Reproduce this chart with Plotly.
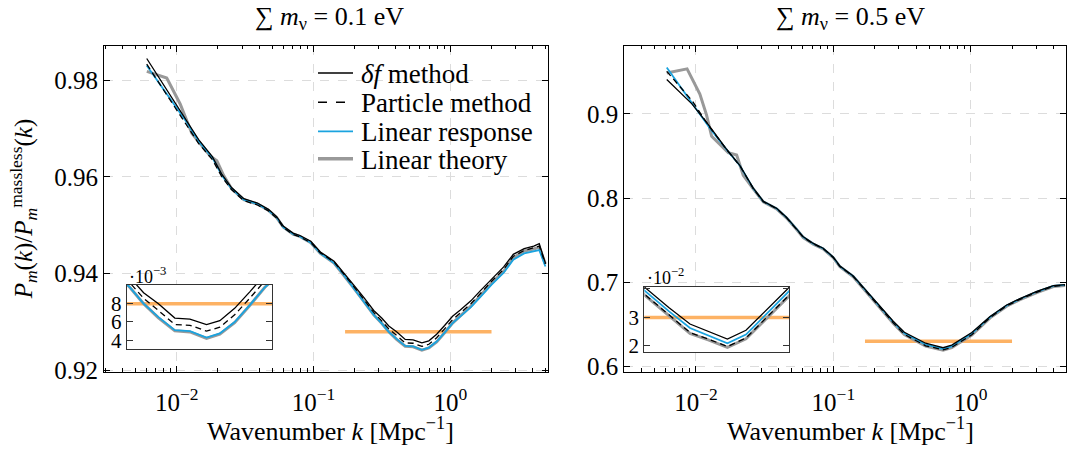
import plotly.graph_objects as go

W, H = 1081, 457
FONT = "Liberation Serif"

# ---------------- data: sum m_nu = 0.1 eV ----------------
k_lo = [0.00603, 0.01175, 0.01445, 0.01820, 0.02138, 0.02512, 0.03090, 0.03890, 0.04677, 0.05370,
        0.06026, 0.07079, 0.07943, 0.09550, 0.1122, 0.1413, 0.1660, 0.1950, 0.2344, 0.2754,
        0.3162, 0.3548, 0.4046, 0.4677, 0.5346, 0.6194, 0.6966, 0.7943, 0.9080, 1.038,
        1.183, 1.413, 1.660, 1.995, 2.455, 2.884, 3.467, 4.074, 4.467, 4.955]
deltaf_lo = [0.98447, 0.9716, 0.9677, 0.9642, 0.9605, 0.9578, 0.9555, 0.9546, 0.9533, 0.9518,
             0.9498, 0.9484, 0.9479, 0.9467, 0.9445, 0.9426, 0.9403, 0.9378, 0.9350, 0.9324,
             0.9308, 0.9292, 0.9280, 0.92642, 0.92631, 0.92571, 0.92613, 0.92749, 0.92930, 0.9312,
             0.9325, 0.9344, 0.9365, 0.9389, 0.9414, 0.9440, 0.9452, 0.9457, 0.9462, 0.9422]
particle_lo = [0.9833, 0.9708, 0.9669, 0.9636, 0.9600, 0.9574, 0.9551, 0.9542, 0.9530, 0.9515,
               0.9495, 0.9481, 0.9476, 0.9464, 0.9443, 0.9424, 0.9400, 0.9375, 0.9346, 0.9320,
               0.9302, 0.9286, 0.92725, 0.92571, 0.92563, 0.92499, 0.92542, 0.92678, 0.92860, 0.9305,
               0.9319, 0.9338, 0.9359, 0.9384, 0.9409, 0.9436, 0.9448, 0.9453, 0.9457, 0.9420]
linresp_lo = [0.9830, 0.9714, 0.9674, 0.9640, 0.9603, 0.9576, 0.9553, 0.9544, 0.9531, 0.9516,
              0.9496, 0.9482, 0.9477, 0.9464, 0.9442, 0.9422, 0.9398, 0.9372, 0.9342, 0.9315,
              0.9297, 0.9280, 0.92653, 0.92510, 0.92499, 0.92428, 0.92474, 0.92599, 0.92784, 0.9298,
              0.9312, 0.9331, 0.9352, 0.9377, 0.9402, 0.9429, 0.9442, 0.9446, 0.9449, 0.9415]
ktheory_lo = [0.00604, 0.00845, 0.01059, 0.01288, 0.01403, 0.01754, 0.01963, 0.02198,
              0.02512, 0.03090, 0.03890, 0.04677, 0.05370, 0.06026, 0.07079, 0.07943, 0.09550,
              0.1122, 0.1413, 0.1660, 0.1950, 0.2344, 0.2754, 0.3162, 0.3548, 0.4046, 0.4677,
              0.5346, 0.6194, 0.6966, 0.7943, 0.9080, 1.038, 1.183, 1.413, 1.660, 1.995, 2.455,
              2.884, 3.467, 4.074, 4.467, 4.955]
theory_lo = [0.9818, 0.98044, 0.97507, 0.96903, 0.9677, 0.96434, 0.96334, 0.96032,
             0.9576, 0.9553, 0.9544, 0.9531, 0.9516, 0.9496, 0.9482, 0.9477, 0.9464,
             0.9442, 0.9422, 0.9398, 0.9372, 0.9342, 0.9315, 0.9297, 0.9280, 0.92645, 0.92502,
             0.92490, 0.92420, 0.92466, 0.92592, 0.92780, 0.9298, 0.9313, 0.9333, 0.9355, 0.9380, 0.9405,
             0.9433, 0.9447, 0.9451, 0.9455, 0.9420]
band_k_lo = [0.17, 2.0]
band_lo = [0.928, 0.928]

# ---------------- data: sum m_nu = 0.5 eV ----------------
k_hi = [0.006124, 0.009333, 0.01262, 0.01671, 0.02089, 0.02612, 0.03090, 0.03864, 0.04571, 0.05408,
        0.06039, 0.07145, 0.08433, 0.09977, 0.1117, 0.1396, 0.1652, 0.2065, 0.2729, 0.3289,
        0.3981, 0.4699, 0.5420, 0.6295, 0.7278, 0.8511, 1.019, 1.384, 1.828, 2.286,
        3.027, 4.000, 4.864]
deltaf_hi = [0.9408, 0.9119, 0.8850, 0.8580, 0.8387, 0.8118, 0.7963, 0.7879, 0.7771, 0.7636,
             0.7540, 0.7462, 0.7405, 0.7301, 0.7193, 0.7077, 0.6942, 0.6769, 0.6538, 0.6407,
             0.6335, 0.6277, 0.6252, 0.6224, 0.6255, 0.6325, 0.6405, 0.6595, 0.6731, 0.6807,
             0.6892, 0.6962, 0.6973]
particle_hi = [0.9505, 0.9160, 0.8840, 0.8575, 0.8382, 0.8113, 0.7958, 0.7874, 0.7766, 0.7631,
               0.7535, 0.7457, 0.7400, 0.7296, 0.7188, 0.7070, 0.6933, 0.6756, 0.6519, 0.6382,
               0.6308, 0.6247, 0.6224, 0.6198, 0.6228, 0.6297, 0.6378, 0.6582, 0.6720, 0.6798,
               0.6882, 0.6953, 0.6965]
linresp_hi = [0.9551, 0.9131, 0.8830, 0.8576, 0.8384, 0.8115, 0.7960, 0.7876, 0.7768, 0.7633,
              0.7537, 0.7459, 0.7402, 0.7298, 0.7190, 0.7073, 0.6937, 0.6762, 0.6528, 0.6395,
              0.6322, 0.6263, 0.6237, 0.6209, 0.6240, 0.6310, 0.6392, 0.6588, 0.6726, 0.6803,
              0.6888, 0.6958, 0.6969]
ktheory_hi = [0.006124, 0.008610, 0.01067, 0.01194, 0.01300, 0.01718, 0.01977, 0.02208,
              0.02612, 0.03090, 0.03864, 0.04571, 0.05408, 0.06039, 0.07145, 0.08433, 0.09977,
              0.1117, 0.1396, 0.1652, 0.2065, 0.2729, 0.3289, 0.3981, 0.4699, 0.5420, 0.6295,
              0.7278, 0.8511, 1.019, 1.384, 1.828, 2.286, 3.027, 4.000, 4.864]
theory_hi = [0.9486, 0.9535, 0.9235, 0.8985, 0.8734, 0.8541, 0.8511, 0.8272,
             0.8110, 0.7955, 0.7871, 0.7763, 0.7628, 0.7532, 0.7454, 0.7397, 0.7293,
             0.7185, 0.7067, 0.6930, 0.6753, 0.6516, 0.6379, 0.6305, 0.6244, 0.6221, 0.6195,
             0.6225, 0.6294, 0.6375, 0.6579, 0.6717, 0.6795, 0.6879, 0.6950, 0.6962]
band_k_hi = [0.17, 2.0]
band_hi = [0.63, 0.63]

titles = ["\u2211 <i>m</i><sub>\u03bd</sub> = 0.1 eV", "\u2211 <i>m</i><sub>\u03bd</sub> = 0.5 eV"]
names = ["<i>\u03b4f</i> method", "Particle method", "Linear response", "Linear theory"]
xticks = [0.01, 0.1, 1]
xticktext = ["10<sup>\u22122</sup>", "10<sup>\u22121</sup>", "10<sup>0</sup>"]
yticks_lo = [0.92, 0.94, 0.96, 0.98]
yticks_hi = [0.6, 0.7, 0.8, 0.9]
inset_ticks_lo = [0.924, 0.926, 0.928]
inset_text_lo = ["4", "6", "8"]
inset_ticks_hi = [0.62, 0.63, 0.64]
inset_text_hi = ["2", "3", ""]

BLACK = "#000000"
BLUE = "#1aa3df"
GRAY = "#999999"
ORANGE = "#fdb264"
DASH = "6px,4px"

fig = go.Figure()

def add_set(xa, ya, kk, df, pa, lr, kt, th, bk, bv):
    fig.add_trace(go.Scatter(x=bk, y=bv, mode="lines", line=dict(color=ORANGE, width=3.5),
                             xaxis=xa, yaxis=ya, showlegend=False, hoverinfo="skip"))
    fig.add_trace(go.Scatter(x=kt, y=th, mode="lines", name=names[3], line=dict(color=GRAY, width=3),
                             xaxis=xa, yaxis=ya, showlegend=False))
    fig.add_trace(go.Scatter(x=kk, y=lr, mode="lines", name=names[2], line=dict(color=BLUE, width=1.8),
                             xaxis=xa, yaxis=ya, showlegend=False))
    fig.add_trace(go.Scatter(x=kk, y=pa, mode="lines", name=names[1],
                             line=dict(color=BLACK, width=1.3, dash=DASH),
                             xaxis=xa, yaxis=ya, showlegend=False))
    fig.add_trace(go.Scatter(x=kk, y=df, mode="lines", name=names[0], line=dict(color=BLACK, width=1.3),
                             xaxis=xa, yaxis=ya, showlegend=False))

add_set("x", "y", k_lo, deltaf_lo, particle_lo, linresp_lo, ktheory_lo, theory_lo, band_k_lo, band_lo)
add_set("x2", "y2", k_hi, deltaf_hi, particle_hi, linresp_hi, ktheory_hi, theory_hi, band_k_hi, band_hi)
add_set("x3", "y3", k_lo, deltaf_lo, particle_lo, linresp_lo, ktheory_lo, theory_lo, band_k_lo, band_lo)
add_set("x4", "y4", k_hi, deltaf_hi, particle_hi, linresp_hi, ktheory_hi, theory_hi, band_k_hi, band_hi)

minor_vals = [m * 10 ** e for e in (-3, -2, -1, 0) for m in range(2, 10)]

def main_x(domain, rng, anchor):
    return dict(type="log", range=rng, domain=domain, anchor=anchor,
                showline=True, linecolor=BLACK, linewidth=1, mirror="allticks",
                ticks="inside", ticklen=6, tickcolor=BLACK, tickwidth=1,
                tickmode="array", tickvals=xticks, ticktext=xticktext, ticklabelstandoff=8,
                tickfont=dict(family=FONT, size=25, color=BLACK),
                showgrid=True, gridcolor="#dcdcdc", griddash="dash", gridwidth=1,
                minor=dict(tickmode="array", tickvals=minor_vals, ticks="inside", ticklen=3.5,
                           tickcolor=BLACK, tickwidth=1, showgrid=False),
                zeroline=False)

def main_y(domain, rng, anchor, tv):
    return dict(range=rng, domain=domain, anchor=anchor,
                showline=True, linecolor=BLACK, linewidth=1, mirror="allticks",
                ticks="inside", ticklen=6, tickcolor=BLACK, tickwidth=1,
                tickmode="array", tickvals=tv, ticktext=[f"{v:g}" for v in tv],
                tickfont=dict(family=FONT, size=25, color=BLACK),
                showgrid=True, gridcolor="#dcdcdc", griddash="dash", gridwidth=1,
                zeroline=False)

def inset_x(domain, rng, anchor):
    return dict(type="log", range=rng, domain=domain, anchor=anchor,
                showline=True, linecolor="#333333", linewidth=1, mirror=True,
                ticks="", showticklabels=False, showgrid=False, zeroline=False)

def inset_y(domain, rng, anchor, tv, tt):
    return dict(range=rng, domain=domain, anchor=anchor,
                showline=True, linecolor="#333333", linewidth=1, mirror="allticks",
                ticks="inside", ticklen=6, tickcolor="#333333",
                tickmode="array", tickvals=tv, ticktext=tt,
                tickfont=dict(family=FONT, size=21, color=BLACK),
                showgrid=False, zeroline=False)

ydom = [1 - 382 / H, 1 - 47 / H]
fig.update_layout(
    width=W, height=H,
    margin=dict(l=0, r=0, t=0, b=0),
    paper_bgcolor="white", plot_bgcolor="white",
    font=dict(family=FONT, size=25, color=BLACK),
    xaxis=main_x([104 / W, 548 / W], [-2.532, 0.714], "y"),
    yaxis=main_y(ydom, [0.9197, 0.9871], "x", yticks_lo),
    xaxis2=main_x([624.3 / W, 1066 / W], [-2.522, 0.694], "y2"),
    yaxis2=main_y(ydom, [0.5936, 0.9809], "x2", yticks_hi),
    xaxis3=inset_x([126.7 / W, 272 / W], [-0.515, 0.0436], "y3"),
    yaxis3=inset_y([1 - 358.7 / H, 1 - 292.3 / H], [0.9230, 0.93009], "x3", inset_ticks_lo, inset_text_lo),
    xaxis4=inset_x([644.3 / W, 789 / W], [-0.483, 0.008], "y4"),
    yaxis4=inset_y([1 - 361.7 / H, 1 - 294.4 / H], [0.6178, 0.6408], "x4", inset_ticks_hi, inset_text_hi),
    showlegend=False,
)

# white backgrounds for the insets (drawn in the inset subplots, over main gridlines)
for ax in ("x3", "x4"):
    yax = "y" + ax[1:]
    fig.add_shape(type="rect", xref=f"{ax} domain", yref=f"{yax} domain", x0=0, x1=1, y0=0, y1=1,
                  fillcolor="white", line=dict(width=0), layer="below")

# legend (inside left panel)
leg_styles = [dict(color=BLACK, width=1.6), dict(color=BLACK, width=1.6, dash="dash"),
              dict(color=BLUE, width=1.8), dict(color=GRAY, width=3.5)]
leg_y = [75, 105, 135, 163]
ann = []
for nm, st, yy in zip(names, leg_styles, leg_y):
    fig.add_shape(type="line", xref="paper", yref="paper", x0=318 / W, x1=353 / W,
                  y0=1 - yy / H, y1=1 - yy / H, line=st)
    ann.append(dict(text=nm, x=359 / W, y=1 - (yy + 1) / H, xref="paper", yref="paper",
                    showarrow=False, xanchor="left", yanchor="middle", font=dict(size=27)))

ann.append(dict(text=titles[0], x=329 / W, y=1 - 18 / H, xref="paper", yref="paper",
                showarrow=False, xanchor="center", yanchor="middle", font=dict(size=26)))
ann.append(dict(text=titles[1], x=850 / W, y=1 - 18 / H, xref="paper", yref="paper",
                showarrow=False, xanchor="center", yanchor="middle", font=dict(size=26)))
for cx in (330, 850):
    ann.append(dict(text="Wavenumber <i>k</i> [Mpc<sup>\u22121</sup>]", x=cx / W, y=1 - 441 / H,
                    xref="paper", yref="paper", showarrow=False, xanchor="center", yanchor="middle",
                    font=dict(size=26)))
ann.append(dict(text="<i>P<sub>m</sub></i>(<i>k</i>)/<i>P<sub>m</sub></i><sup>massless</sup>(<i>k</i>)",
                x=24 / W, y=1 - 215 / H, xref="paper", yref="paper", showarrow=False, textangle=-90,
                xanchor="center", yanchor="middle", font=dict(size=25)))
ann.append(dict(text="\u00b710<sup>\u22123</sup>", x=127 / W, y=1 - 283 / H, xref="paper", yref="paper",
                showarrow=False, xanchor="left", yanchor="middle", font=dict(size=18)))
ann.append(dict(text="\u00b710<sup>\u22122</sup>", x=645 / W, y=1 - 284 / H, xref="paper", yref="paper",
                showarrow=False, xanchor="left", yanchor="middle", font=dict(size=18)))
fig.update_layout(annotations=ann)

fig.write_html("out.html")
